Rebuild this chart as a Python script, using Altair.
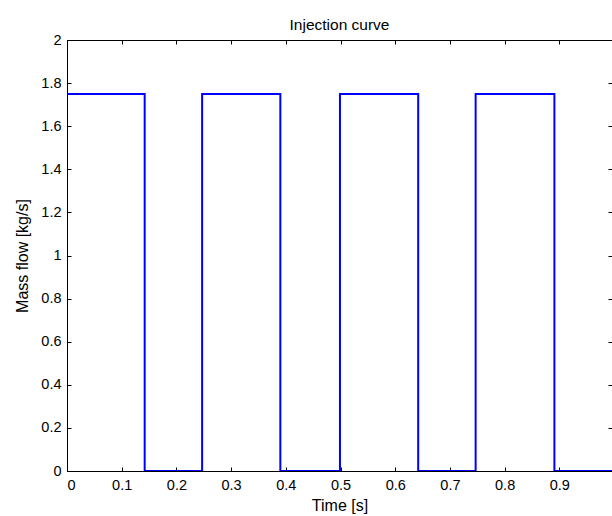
import altair as alt
import pandas as pd

# Step transitions of the injection curve (time in s, mass flow in kg/s)
times = [0.0, 0.142, 0.247, 0.390, 0.499, 0.642, 0.747, 0.891, 1.0]
flows = [1.75, 0.0, 1.75, 0.0, 1.75, 0.0, 1.75, 0.0, 0.0]

x_ticks = [0, 0.1, 0.2, 0.3, 0.4, 0.5, 0.6, 0.7, 0.8, 0.9, 1.0]
y_ticks = [0, 0.2, 0.4, 0.6, 0.8, 1.0, 1.2, 1.4, 1.6, 1.8, 2.0]

df = pd.DataFrame({"t": times, "m": flows})

FONT = "Liberation Sans"
XDOM = [0, 0.9963]
YDOM = [0, 2]

common_axis = dict(
    domain=False, grid=False, tickColor="black", tickSize=4, tickWidth=1,
    offset=-4, labelFont=FONT, labelFontSize=14.5, labelColor="black",
    titleFont=FONT, titleFontSize=16, titleFontWeight="normal", titleColor="black",
)

main = alt.Chart(df).mark_line(
    interpolate="step-after", color="#0000FF", strokeWidth=2, clip=True
).encode(
    x=alt.X("t:Q", scale=alt.Scale(domain=XDOM, nice=False, zero=False),
            axis=alt.Axis(values=x_ticks, format="~g", title="Time [s]",
                          labelPadding=7, titlePadding=6, **common_axis)),
    y=alt.Y("m:Q", scale=alt.Scale(domain=YDOM, nice=False),
            axis=alt.Axis(values=y_ticks, format=".1~f", title="Mass flow [kg/s]",
                          labelPadding=6, titlePadding=10, **common_axis)),
)

box_axis = {k: v for k, v in common_axis.items()}
box_axis.update(labels=False, title=None)

mirror = alt.Chart(df).mark_line(opacity=0, clip=True).encode(
    x=alt.X("t:Q", scale=alt.Scale(domain=XDOM, nice=False, zero=False),
            axis=alt.Axis(values=x_ticks, orient="top", **box_axis)),
    y=alt.Y("m:Q", scale=alt.Scale(domain=YDOM, nice=False),
            axis=alt.Axis(values=y_ticks, orient="right", **box_axis)),
)

chart = alt.layer(main, mirror).resolve_scale(
    x="independent", y="independent"
).properties(
    width=545, height=431,
    title=alt.TitleParams("Injection curve", font=FONT, fontSize=15.5,
                          fontWeight="normal", color="black", offset=-1),
    autosize=alt.AutoSizeParams(type="none"),
    padding={"left": 67, "top": 40, "right": 0, "bottom": 45},
    background="white",
).configure_view(stroke="black", strokeWidth=1)

chart.save("out.html", embed_options={"renderer": "svg", "actions": False})
